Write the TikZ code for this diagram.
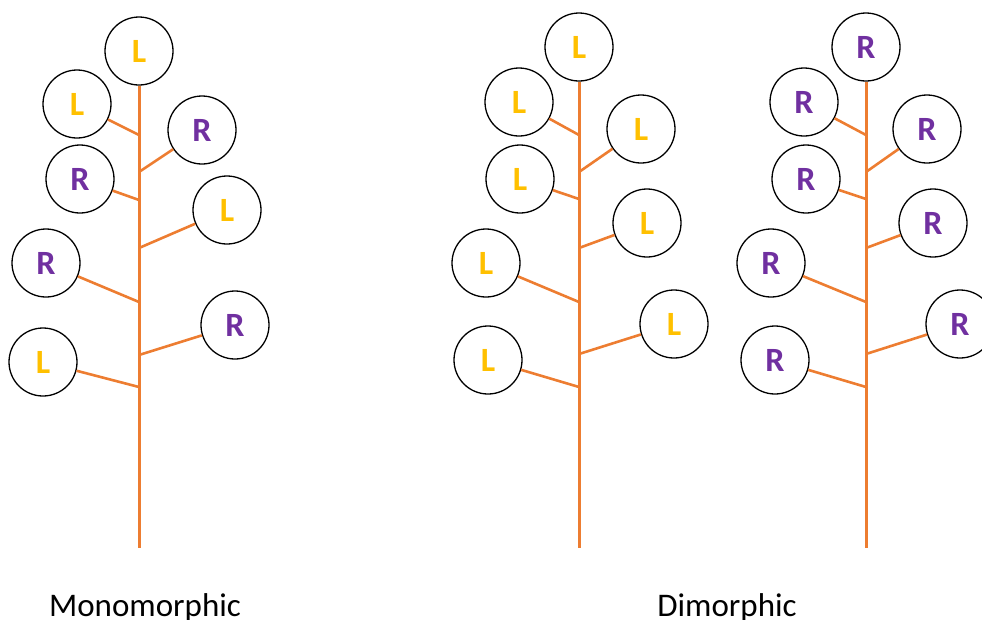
\documentclass[tikz,border=0pt]{standalone}
\usepackage{fontspec}
\setmainfont{Carlito}
\definecolor{stemc}{HTML}{ED7D31}
\definecolor{lcol}{HTML}{FFC000}
\definecolor{rcol}{HTML}{7030A0}
\begin{document}
\begin{tikzpicture}[x=1pt,y=-1pt,
  flower/.style={circle,draw=black,line width=1.3pt,minimum size=68pt,inner sep=0pt,
    font=\fontsize{34}{34}\selectfont\bfseries},
  lf/.style={flower,text=lcol},
  rf/.style={flower,text=rcol},
  stemline/.style={draw=stemc,line width=3pt},
  branch/.style={draw=stemc,line width=2.6pt},
  caption/.style={anchor=base,font=\fontsize{33}{33}\selectfont,inner sep=0pt}]
\clip (0,0) rectangle (982,619);
\useasboundingbox (0,0) rectangle (982,619);

% ---------- Tree 1 (monomorphic) ----------
\node[lf] (a0) at (139,51) {L};
\node[lf] (a1) at (77,104) {L};
\node[rf] (a2) at (202,130) {R};
\node[rf] (a3) at (80,179) {R};
\node[lf] (a4) at (227,210) {L};
\node[rf] (a5) at (46,263) {R};
\node[rf] (a6) at (235,325) {R};
\node[lf] (a7) at (43,362) {L};
\coordinate (abot) at (139,548);
\coordinate (aj1) at (139,135);
\coordinate (aj2) at (139,172);
\coordinate (aj3) at (139,200);
\coordinate (aj4) at (139,248);
\coordinate (aj5) at (139,302);
\coordinate (aj6) at (139,355);
\coordinate (aj7) at (139,387);
\draw[stemline] (a0) -- (abot);
\draw[branch] (aj1) -- (a1);
\draw[branch] (aj2) -- (a2);
\draw[branch] (aj3) -- (a3);
\draw[branch] (aj4) -- (a4);
\draw[branch] (aj5) -- (a5);
\draw[branch] (aj6) -- (a6);
\draw[branch] (aj7) -- (a7);

% ---------- Tree 2 (dimorphic, L) ----------
\node[lf] (b0) at (579,47) {L};
\node[lf] (b1) at (519,102) {L};
\node[lf] (b2) at (641,129) {L};
\node[lf] (b3) at (520,179) {L};
\node[lf] (b4) at (647,223) {L};
\node[lf] (b5) at (486,263) {L};
\node[lf] (b6) at (674,324) {L};
\node[lf] (b7) at (488,360) {L};
\coordinate (bbot) at (579,548);
\coordinate (bj1) at (579,135);
\coordinate (bj2) at (579,172);
\coordinate (bj3) at (579,199);
\coordinate (bj4) at (579,248);
\coordinate (bj5) at (579,302);
\coordinate (bj6) at (579,354);
\coordinate (bj7) at (579,387);
\draw[stemline] (b0) -- (bbot);
\draw[branch] (bj1) -- (b1);
\draw[branch] (bj2) -- (b2);
\draw[branch] (bj3) -- (b3);
\draw[branch] (bj4) -- (b4);
\draw[branch] (bj5) -- (b5);
\draw[branch] (bj6) -- (b6);
\draw[branch] (bj7) -- (b7);

% ---------- Tree 3 (dimorphic, R) ----------
\node[rf] (c0) at (866,47) {R};
\node[rf] (c1) at (804,102) {R};
\node[rf] (c2) at (927,129) {R};
\node[rf] (c3) at (806,179) {R};
\node[rf] (c4) at (933,223) {R};
\node[rf] (c5) at (771,263) {R};
\node[rf] (c6) at (960,324) {R};
\node[rf] (c7) at (775,360) {R};
\coordinate (cbot) at (866,548);
\coordinate (cj1) at (866,135);
\coordinate (cj2) at (866,172);
\coordinate (cj3) at (866,199);
\coordinate (cj4) at (866,248);
\coordinate (cj5) at (866,302);
\coordinate (cj6) at (866,354);
\coordinate (cj7) at (866,387);
\draw[stemline] (c0) -- (cbot);
\draw[branch] (cj1) -- (c1);
\draw[branch] (cj2) -- (c2);
\draw[branch] (cj3) -- (c3);
\draw[branch] (cj4) -- (c4);
\draw[branch] (cj5) -- (c5);
\draw[branch] (cj6) -- (c6);
\draw[branch] (cj7) -- (c7);

% ---------- Captions ----------
\node[caption] (capm) at (145,616) {Monomorphic};
\node[caption] (capd) at (727,616) {Dimorphic};
\end{tikzpicture}
\end{document}
